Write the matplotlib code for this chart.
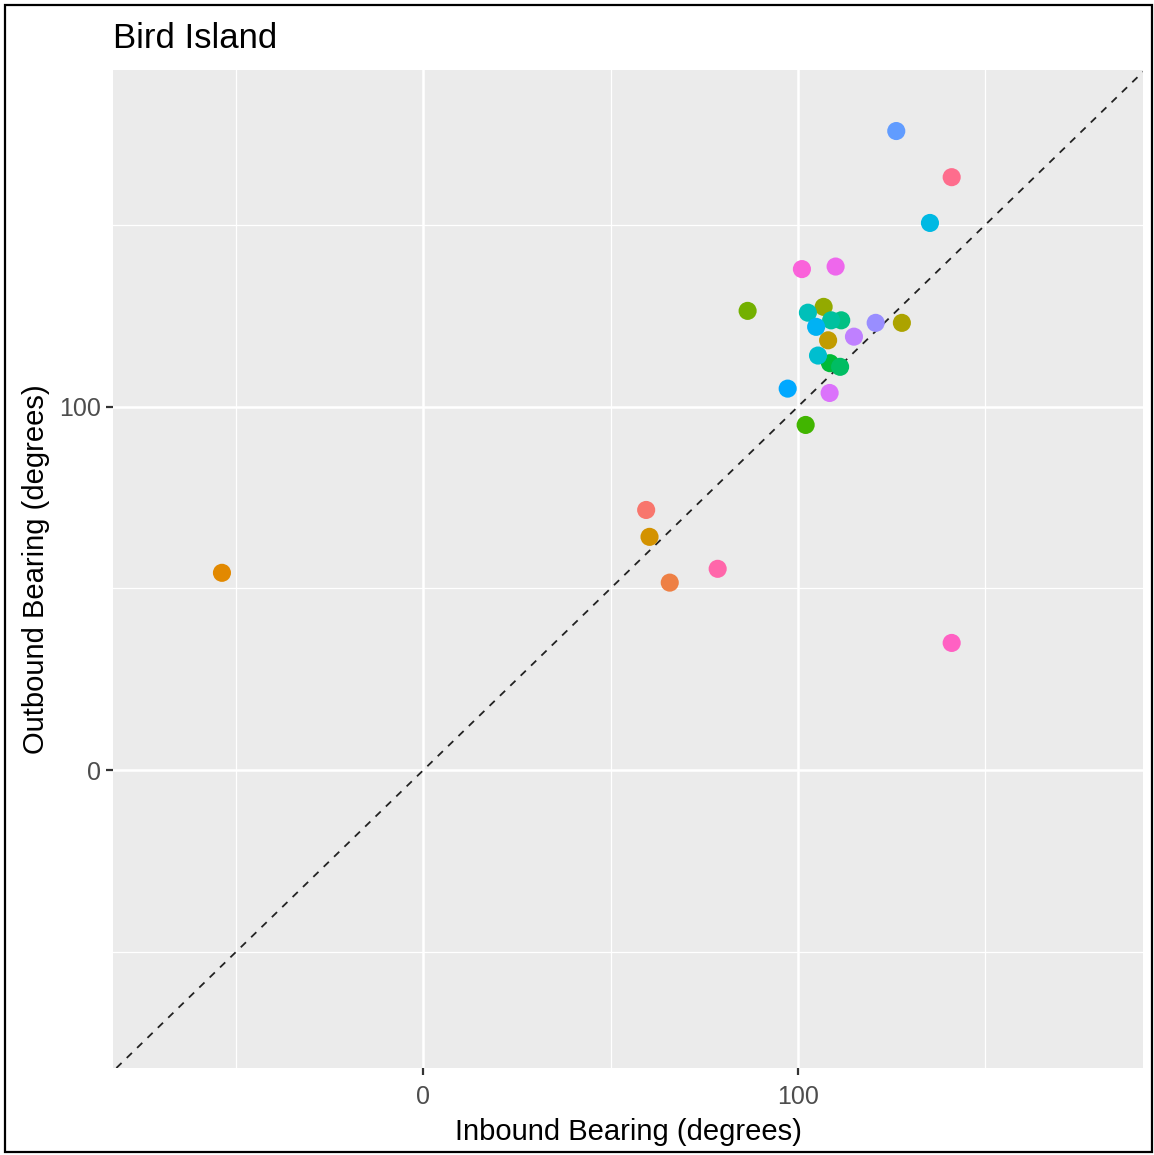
import matplotlib
matplotlib.use("Agg")
import matplotlib.pyplot as plt
from matplotlib.patches import Rectangle
import numpy as np

plt.rcParams['font.family'] = ['Liberation Sans', 'DejaVu Sans']

# Datos (un punto por ave)
bird_id = list(range(27))
inbound = [59.5, 65.8, -53.8, 60.4, 108.1, 127.8, 106.9, 86.6, 102.1, 108.6,
           111.3, 111.6, 108.9, 102.7, 105.4, 135.3, 104.9, 97.3, 126.3, 120.8,
           115.0, 108.5, 110.1, 101.1, 141.1, 78.6, 141.1]
outbound = [71.6, 51.6, 54.3, 64.2, 118.3, 123.1, 127.5, 126.4, 95.0, 112.0,
            111.0, 123.8, 123.8, 125.9, 114.1, 150.6, 122.0, 105.0, 175.9, 123.1,
            119.3, 103.8, 138.6, 137.9, 35.0, 55.4, 163.2]

x_ticks = [0, 100]
y_ticks = [0, 100]
minor_ticks = [-50, 50, 150]


def hue_pal(n, l=65, c=100, h0=15):
    # paleta por defecto de ggplot (HCL polar Luv -> sRGB)
    h = np.deg2rad((h0 + np.arange(n) * 360 / n) % 360)
    u, v = c * np.cos(h), c * np.sin(h)
    Xn, Yn, Zn = 95.047, 100.0, 108.883
    un = 4 * Xn / (Xn + 15 * Yn + 3 * Zn)
    vn = 9 * Yn / (Xn + 15 * Yn + 3 * Zn)
    Y = np.full(n, Yn * ((l + 16) / 116) ** 3)
    up = u / (13 * l) + un
    vp = v / (13 * l) + vn
    X = Y * 9 * up / (4 * vp)
    Z = Y * (12 - 3 * up - 20 * vp) / (4 * vp)
    xyz = np.stack([X, Y, Z]) / 100
    M = np.array([[3.2404542, -1.5371385, -0.4985314],
                  [-0.9692660, 1.8760108, 0.0415560],
                  [0.0556434, -0.2040259, 1.0572252]])
    rgb = np.clip(M @ xyz, 0, 1)
    rgb = np.where(rgb <= 0.0031308, 12.92 * rgb, 1.055 * rgb ** (1 / 2.4) - 0.055)
    return np.clip(rgb.T, 0, 1)


colores = hue_pal(len(bird_id))[bird_id]

fig = plt.figure(figsize=(11.54, 11.55), dpi=100)
ax = fig.add_axes([113 / 1154, 1 - 1068 / 1155, 1030 / 1154, 998 / 1155])
ax.set_facecolor('#EBEBEB')

ax.set_xlim(-82.9, 192.2)
ax.set_ylim(-82.0, 192.7)

ax.set_xticks(x_ticks)
ax.set_yticks(y_ticks)
ax.set_xticks(minor_ticks, minor=True)
ax.set_yticks(minor_ticks, minor=True)
ax.grid(which='major', color='white', linewidth=1.8)
ax.grid(which='minor', color='white', linewidth=0.9)
ax.set_axisbelow(True)
ax.tick_params(which='major', length=5, width=1.6, color='#333333',
               labelsize=18, labelcolor='#4D4D4D')
ax.tick_params(axis='x', which='major', pad=7)
ax.tick_params(axis='y', which='major', pad=4)
ax.tick_params(which='minor', length=0)
for s in ax.spines.values():
    s.set_visible(False)

ax.axline((0, 0), slope=1, color='#222222', linewidth=1.3,
          linestyle=(0, (4, 4)), zorder=2)
ax.scatter(inbound, outbound, c=colores, s=170, linewidths=0, zorder=3)

ax.set_xlabel("Inbound Bearing (degrees)", fontsize=21, labelpad=7)
ax.set_ylabel("Outbound Bearing (degrees)", fontsize=21, labelpad=6)
fig.text(113 / 1154, 1 - 39 / 1155, "Bird Island", fontsize=25,
         ha='left', va='center')

# marco negro alrededor de la imagen
fig.patches.append(Rectangle((5 / 1154, 3 / 1155), 1147 / 1154, 1147 / 1155,
                             transform=fig.transFigure, fill=False,
                             edgecolor='black', linewidth=1.6))

fig.savefig("out.png", dpi=100)
